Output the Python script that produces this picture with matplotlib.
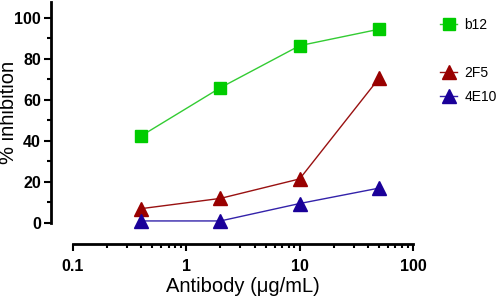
import matplotlib
matplotlib.use('Agg')
import matplotlib.pyplot as plt
from matplotlib.ticker import LogLocator, MultipleLocator, FixedLocator

# data
conc = [0.4, 2, 10, 50]
b12 = [42.5, 66, 86.5, 94.5]
f2f5 = [7, 12, 21.5, 70.5]
e4e10 = [1, 1, 9.5, 17]

plt.rcParams['font.family'] = ['Liberation Sans', 'DejaVu Sans']

fig = plt.figure(figsize=(5, 2.98), dpi=100)
ax = fig.add_axes([0.146, 0.2517, 0.68, 0.743])

ax.plot(conc, b12, '-s', color='#33cc33', mfc='#00cc00', mec='#00cc00',
        ms=9, lw=1, label='b12', clip_on=False)
ax.plot([], [], ' ', label=' ')
ax.plot(conc, f2f5, '-^', color='#991111', mfc='#990000', mec='#990000',
        ms=9.5, lw=1, label='2F5', clip_on=False)
ax.plot(conc, e4e10, '-^', color='#3322aa', mfc='#1a0099', mec='#1a0099',
        ms=9.5, lw=1, label='4E10', clip_on=False)

ax.set_xscale('log')
ax.set_xlim(0.1, 100)
ax.set_ylim(0, 108)
ax.xaxis.set_major_locator(FixedLocator([0.1, 1, 10, 100]))
ax.xaxis.set_minor_locator(LogLocator(base=10, subs=range(2, 10)))
ax.set_xticklabels(['0.1', '1', '10', '100'])
ax.yaxis.set_major_locator(FixedLocator([0, 20, 40, 60, 80, 100]))
ax.yaxis.set_minor_locator(MultipleLocator(10))

for s in ['top', 'right']:
    ax.spines[s].set_visible(False)
ax.spines['left'].set_position(('outward', 16))
ax.spines['bottom'].set_position(('outward', 15))
ax.spines['left'].set_linewidth(2)
ax.spines['bottom'].set_linewidth(2)
ax.tick_params(which='major', direction='out', length=5, width=1.5,
               labelsize=11.5, pad=2)
ax.tick_params(axis='x', which='major', pad=6)
ax.tick_params(which='minor', direction='out', length=3, width=1.5)
for lab in ax.get_xticklabels() + ax.get_yticklabels():
    lab.set_fontweight('bold')

ax.set_xlabel('Antibody (\u03bcg/mL)', fontsize=14.5, labelpad=2)
ax.set_ylabel('% inhibition', fontsize=14.5)
ax.yaxis.set_label_coords(-0.162, 0.5)

fig.legend(loc='upper left', bbox_to_anchor=(0.866, 0.962), frameon=False,
           fontsize=10, handlelength=1.25, handletextpad=0.5,
           labelspacing=0.72, borderpad=0)

fig.savefig('out.png', dpi=100)
